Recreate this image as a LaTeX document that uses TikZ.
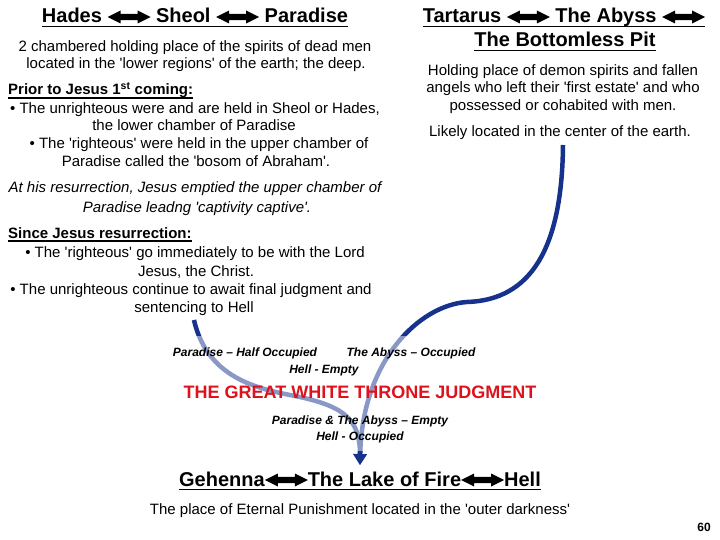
\documentclass[tikz,border=0pt]{standalone}
\usepackage{fontspec}
\setmainfont{Liberation Sans}[Ligatures=TeXOff]
\usetikzlibrary{arrows.meta}
\definecolor{curveblue}{RGB}{22,50,140}
\definecolor{judgred}{RGB}{222,18,28}
\newcommand\lra{\tikz[baseline=0pt,x=1pt,y=1pt]{\fill[black] (0,6) -- (13,12.5) -- (13,9.2) -- (30,9.2) -- (30,12.5) -- (43,6) -- (30,-0.5) -- (30,2.8) -- (13,2.8) -- (13,-0.5) -- cycle;}}
\begin{document}
\begin{tikzpicture}[x=1pt,y=-1pt,
  every node/.style={inner sep=0pt, anchor=base},
  body/.style={font=\fontsize{15}{18}\selectfont},
  ital/.style={font=\fontsize{15}{18}\selectfont\itshape},
  ttl/.style={font=\fontsize{20}{24}\selectfont\bfseries},
  sub/.style={font=\fontsize{15}{18}\selectfont\bfseries},
  state/.style={font=\fontsize{12}{14}\selectfont\bfseries\itshape},
  judg/.style={font=\fontsize{18}{22}\selectfont\bfseries, text=judgred},
  uline/.style={line width=1.6pt},
  thinline/.style={line width=1.1pt},
  flow/.style={draw=curveblue, line width=4.5pt, -{Triangle[length=11pt,width=13pt]}},
]
\useasboundingbox (0,0) rectangle (720,540);

% connectors
\coordinate (lstart) at (194,320);
\coordinate (lmid) at (300,397);
\coordinate (rstart) at (563,145);
\coordinate (rmid) at (467,302);
\coordinate (tip) at (360,465);
\draw[flow] (rstart) .. controls (562,250) and (530,300) .. (rmid)
  .. controls (420,305) and (362,360) .. (tip);
\draw[flow] (lstart) .. controls (208,382) and (265,390) .. (lmid)
  .. controls (345,407) and (360,420) .. (tip);
\fill[white, opacity=0.5] (165,336) rectangle (552,451);

% left column
\node[ttl] (t1) at (195,23) {Hades \lra{} Sheol \lra{} Paradise};
\draw[uline] ([yshift=-3.5pt]t1.base west) -- ([yshift=-3.5pt]t1.base east);
\node[body] (l1) at (195,52) {2 chambered holding place of the spirits of dead men};
\node[body] (l2) at (196,69) {located in the 'lower regions' of the earth; the deep.};
\node[sub, anchor=base west] (p1) at (8,95) {Prior to Jesus 1\textsuperscript{st} coming:};
\draw[thinline] ([yshift=-3pt]p1.base west) -- ([yshift=-3pt]p1.base east);
\node[body] (l3) at (195,114) {• The unrighteous were and are held in Sheol or Hades,};
\node[body] (l4) at (194,131) {the lower chamber of Paradise};
\node[body] (l5) at (199,149) {• The 'righteous' were held in the upper chamber of};
\node[body] (l6) at (196,167) {Paradise called the 'bosom of Abraham'.};

\node[ital] (i1) at (195,193) {At his resurrection, Jesus emptied the upper chamber of};
\node[ital] (i2) at (197,212) {Paradise leadng 'captivity captive'.};

\node[sub, anchor=base west] (s1) at (8,238) {Since Jesus resurrection:};
\draw[thinline] ([yshift=-3pt]s1.base west) -- ([yshift=-3pt]s1.base east);
\node[body] (s2) at (195,258) {• The 'righteous' go immediately to be with the Lord};
\node[body] (s3) at (196,276) {Jesus, the Christ.};
\node[body] (s4) at (191,294) {• The unrighteous continue to await final judgment and};
\node[body] (s5) at (194,312) {sentencing to Hell};

% right column
\node[ttl] (t2) at (564,23) {Tartarus \lra{} The Abyss \lra{}};
\draw[uline] ([yshift=-3.5pt]t2.base west) -- ([yshift=-3.5pt]t2.base east);
\node[ttl] (t3) at (565,47) {The Bottomless Pit};
\draw[uline] ([yshift=-3.5pt]t3.base west) -- ([yshift=-3.5pt]t3.base east);
\node[body] (r1) at (563,76) {Holding place of demon spirits and fallen};
\node[body] (r2) at (563,93) {angels who left their 'first estate' and who};
\node[body] (r3) at (563,111) {possessed or cohabited with men.};
\node[body] (r4) at (560,137) {Likely located in the center of the earth.};

% states and judgment
\node[state] (st1) at (245,356) {Paradise – Half Occupied};
\node[state] (st2) at (411,356) {The Abyss – Occupied};
\node[state] (st3) at (324,373) {Hell - Empty};
\node[judg] (gwt) at (360,398) {THE GREAT WHITE THRONE JUDGMENT};
\node[state] (st4) at (360,424) {Paradise \& The Abyss – Empty};
\node[state] (st5) at (360,440) {Hell - Occupied};

% bottom
\node[ttl] (g1) at (360,486) {Gehenna\lra{}The Lake of Fire\lra{}Hell};
\draw[uline] ([yshift=-3.5pt]g1.base west) -- ([yshift=-3.5pt]g1.base east);
\node[body] (g2) at (360,514) {The place of Eternal Punishment located in the 'outer darkness'};
\node[font=\fontsize{12}{14}\selectfont\bfseries] (pg) at (704,531) {60};
\end{tikzpicture}
\end{document}
